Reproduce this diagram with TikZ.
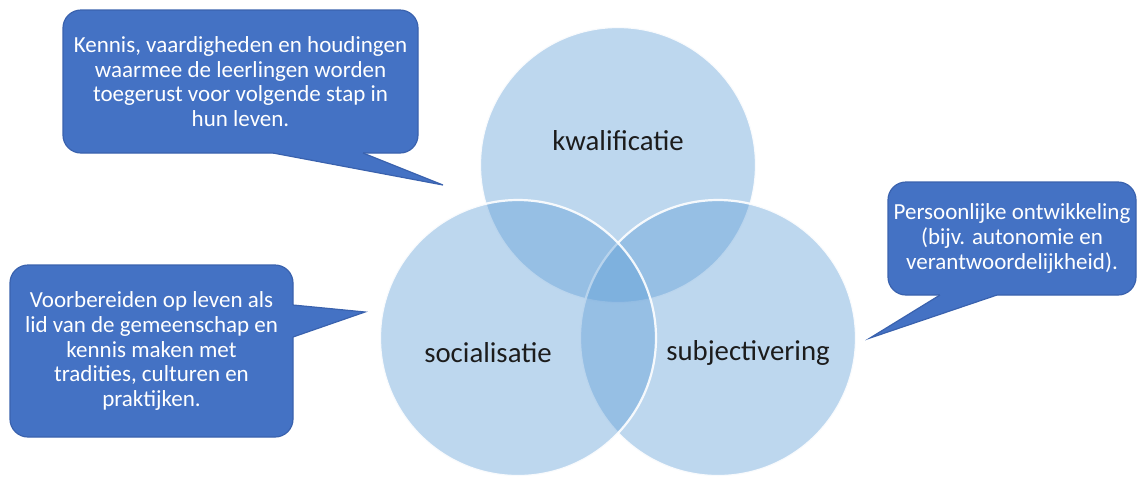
\documentclass[tikz,border=0pt]{standalone}
\usepackage{fontspec}
\setmainfont{Carlito}
\definecolor{venn}{HTML}{5B9BD5}
\definecolor{boxfill}{HTML}{4472C4}
\definecolor{boxline}{HTML}{3A62AE}
\definecolor{labeltext}{HTML}{1C1C1C}
\tikzset{
  venncircle/.style={fill=venn,fill opacity=0.4,draw=white,draw opacity=0.9,line width=1.1pt},
  vennlabel/.style={text=labeltext,font=\fontsize{14.4pt}{17pt}\selectfont,inner sep=0pt},
  callbox/.style={fill=boxfill,draw=boxline,line width=0.6pt,rounded corners=9pt,
     text=white,align=center,inner sep=0pt,font=\fontsize{11.5pt}{12.35pt}\selectfont},
  callfill/.style={fill=boxfill},
  callline/.style={draw=boxline,line width=0.6pt,line join=miter}
}
\begin{document}
\begin{tikzpicture}[x=0.5pt,y=-0.5pt]
\useasboundingbox (0,0) rectangle (1142,479);
% circles
\path[venncircle] (618,165) circle[radius=138];
\path[venncircle] (718,338) circle[radius=138];
\path[venncircle] (518,338) circle[radius=138];
\node[vennlabel] (kwal) at (618,141) {kwalificatie};
\node[vennlabel] (soc) at (488,353) {socialisatie};
\node[vennlabel] (subj) at (748,353) {subjectivering};
% callout 1
\node[callbox,minimum width=177.5pt,minimum height=71.5pt] (box1) at (240.5,81.5)
  {Kennis, vaardigheden en houdingen\\waarmee de leerlingen worden\\toegerust voor volgende stap in\\hun leven.};
\coordinate (tip1) at (443,185);
\fill[callfill] (273,150) -- (273,153) -- (tip1) -- (363,153) -- (363,150) -- cycle;
\draw[callline] (273,153) -- (tip1) -- (363,153);
% callout 2
\node[callbox,minimum width=141.5pt,minimum height=86pt] (box2) at (151.5,351)
  {Voorbereiden op leven als\\lid van de gemeenschap en\\kennis maken met\\tradities, culturen en\\praktijken.};
\coordinate (tip2) at (365,312);
\fill[callfill] (290,305) -- (293,305) -- (tip2) -- (293,337) -- (290,337) -- cycle;
\draw[callline] (293,305) -- (tip2) -- (293,337);
% callout 3
\node[callbox,minimum width=124pt,minimum height=56.5pt] (box3) at (1012,238.5)
  {Persoonlijke ontwikkeling\\(bijv. autonomie en\\verantwoordelijkheid).};
\coordinate (tip3) at (870,338);
\fill[callfill] (940,292) -- (940,295) -- (tip3) -- (997,295) -- (997,292) -- cycle;
\draw[callline] (940,295) -- (tip3) -- (997,295);
\end{tikzpicture}
\end{document}
